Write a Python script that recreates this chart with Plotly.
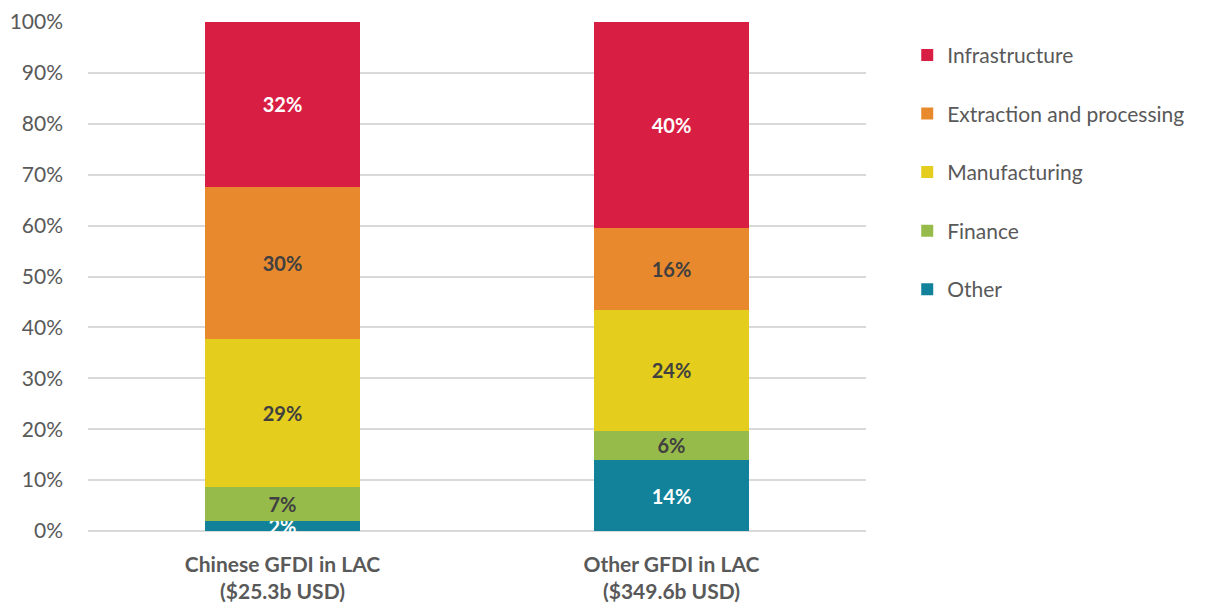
"""Sector split of greenfield FDI in LAC, Chinese vs other investors."""
import plotly.graph_objects as go

categories = ['Chinese GFDI in LAC<br>($25.3b USD)', 'Other GFDI in LAC<br>($349.6b USD)']
sectors = ['Other', 'Finance', 'Manufacturing', 'Extraction and processing', 'Infrastructure']

# share of each sector in %, per category
other = [1.9, 13.9]
finance = [6.8, 5.8]
manufacturing = [29.0, 23.8]
extraction = [29.9, 16.1]
infrastructure = [32.4, 40.4]

colors = ['#12829A', '#97BB4B', '#E4CD1D', '#E9892D', '#D81E42']
label_colors = ['white', '#404040', '#404040', '#404040', 'white']

fig = go.Figure()
series = [other, finance, manufacturing, extraction, infrastructure]
for i, (name, values) in enumerate(zip(sectors, series)):
    fig.add_trace(go.Bar(
        x=categories, y=values, name=name,
        marker_color=colors[i], marker_line_width=0,
        texttemplate='%{y:.0f}%', textposition='inside', insidetextanchor='middle',
        constraintext='none', cliponaxis=False,
        textfont=dict(family='Lato', size=20, color=label_colors[i], weight='bold'),
        legendgroup=name,
        legendrank=len(sectors) - i,  # Infrastructure on top, as in the stack
    ))

# the page body adds an 8px margin, so the figure is 8px smaller than the window
fig.update_layout(
    barmode='stack',
    bargap=0.6,
    width=1201, height=595,
    margin=dict(l=80, r=343, t=14, b=72),
    plot_bgcolor='white', paper_bgcolor='white',
    font=dict(family='Lato', color='#595959'),
    legend=dict(traceorder='grouped', tracegroupgap=28.3,
                x=1.053, y=0.975, xanchor='left', yanchor='top',
                font=dict(size=21, color='#595959')),
)
fig.update_yaxes(range=[0, 100], dtick=10, ticksuffix='%', automargin=False,
                 showgrid=True, gridcolor='#D9D9D9', gridwidth=2,
                 zeroline=True, zerolinecolor='#D9D9D9', zerolinewidth=2,
                 ticklabelstandoff=24, tickfont=dict(size=21, color='#595959'))
fig.update_xaxes(showline=False, ticklabelstandoff=19, automargin=False,
                 tickfont=dict(size=21, color='#595959', weight='bold'))

fig.write_html("out.html")
